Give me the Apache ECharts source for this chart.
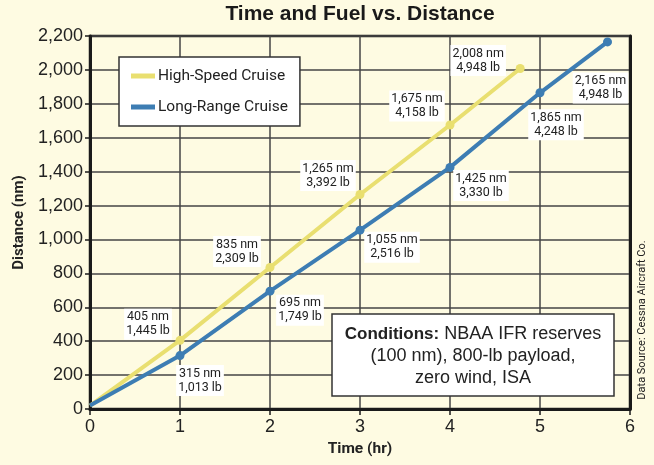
<!DOCTYPE html>
<html>
<head>
<meta charset="utf-8">
<script src="https://cdn.jsdelivr.net/npm/echarts@6/dist/echarts.min.js"></script>
<style>
  html, body { margin: 0; padding: 0; background: #fefbe2; }
  #chart { width: 654px; height: 465px; }
</style>
</head>
<body>
<div id="chart"></div>
<script>
// Data
const hsTime = [0, 1, 2, 3, 4, 4.78];
const hsDist = [20, 405, 835, 1265, 1675, 2008];
const hsFuel = [null, 1445, 2309, 3392, 4158, 4948];

const lrTime = [0, 1, 2, 3, 4, 5, 5.75];
const lrDist = [20, 315, 695, 1055, 1425, 1865, 2165];
const lrFuel = [null, 1013, 1749, 2516, 3330, 4248, 4948];

const xTicks = [0, 1, 2, 3, 4, 5, 6];

// label placement (px from the point)
const hsLabelOffset = [null, [-32, -16], [-33, -16], [-32, -19], [-33, -19], [-42, -8]];
const lrLabelOffset = [null, [20, 25], [30, 19], [32, 17], [31, 18], [16, 32], [-7, 46]];

const YELLOW = '#e9df70';
const BLUE = '#3d7db3';
const INK = '#222';
const NARROW = 'Roboto';
const fmt = v => v.toLocaleString('en-US');

function buildPoints(times, dists, fuels, offsets) {
  return times.map((t, i) => {
    const item = { value: [t, dists[i]] };
    if (fuels[i] == null) {
      item.symbolSize = 0;
      item.label = { show: false };
    } else {
      item.label = {
        show: true,
        position: 'inside',
        offset: offsets[i],
        formatter: fmt(dists[i]) + ' nm\n' + fmt(fuels[i]) + ' lb'
      };
    }
    return item;
  });
}

const pointLabel = {
  fontFamily: NARROW,
  fontSize: 12.5,
  lineHeight: 14,
  color: INK,
  backgroundColor: '#fff',
  padding: [2, 2, 1, 2],
  align: 'center',
  verticalAlign: 'middle'
};

const chart = echarts.init(document.getElementById('chart'));

const option = {
  backgroundColor: '#fefbe2',
  animation: false,
  title: {
    text: 'Time and Fuel vs. Distance',
    left: 360,
    top: 4,
    textAlign: 'center',
    padding: 0,
    textStyle: {
      fontFamily: 'Liberation Sans',
      fontWeight: 'bold',
      fontSize: 21,
      color: '#1a1a1a'
    }
  },
  legend: {
    orient: 'vertical',
    left: 119,
    top: 57,
    padding: [10, 12, 10, 12],
    itemGap: 13,
    itemWidth: 24,
    itemHeight: 5,
    icon: 'rect',
    backgroundColor: '#fff',
    borderColor: '#333',
    borderWidth: 1.5,
    borderRadius: 0,
    textStyle: {
      fontFamily: NARROW,
      fontSize: 15.5,
      lineHeight: 18,
      color: INK,
      padding: [0, 0, 0, -2]
    },
    data: ['High-Speed Cruise', 'Long-Range Cruise']
  },
  grid: {
    left: 90,
    right: 24,
    top: 36,
    bottom: 56,
    show: true,
    borderColor: '#222',
    borderWidth: 2.5
  },
  xAxis: {
    type: 'value',
    min: 0,
    max: 6,
    interval: 1,
    name: 'Time (hr)',
    nameLocation: 'middle',
    nameGap: 32,
    nameTextStyle: {
      fontFamily: NARROW,
      fontWeight: 'bold',
      fontSize: 15.5,
      color: INK
    },
    axisLine: { show: true, onZero: false, lineStyle: { color: '#1a1a1a', width: 3 } },
    axisTick: { show: true, length: 6, lineStyle: { color: '#1a1a1a', width: 1.5 } },
    axisLabel: {
      margin: 9,
      fontFamily: 'Liberation Sans',
      fontSize: 18,
      color: INK,
      formatter: v => xTicks.includes(v) ? String(v) : ''
    },
    splitLine: { show: true, lineStyle: { color: '#444', width: 1.5 } }
  },
  yAxis: [
    {
      type: 'value',
      min: 0,
      max: 2200,
      interval: 200,
      name: 'Distance (nm)',
      nameLocation: 'middle',
      nameGap: 57,
      nameTextStyle: {
        fontFamily: NARROW,
        fontWeight: 'bold',
        fontSize: 15,
        color: INK
      },
      axisLine: { show: true, lineStyle: { color: '#1a1a1a', width: 3 } },
      axisTick: { show: true, length: 5, lineStyle: { color: '#1a1a1a', width: 1.5 } },
      axisLabel: {
        margin: 7,
        fontFamily: 'Liberation Sans',
        fontSize: 18,
        color: INK,
        formatter: v => fmt(v)
      },
      splitLine: { show: true, lineStyle: { color: '#444', width: 1.5 } }
    },
    {
      type: 'value',
      min: 0,
      max: 2200,
      position: 'right',
      axisLine: { show: true, lineStyle: { color: '#1a1a1a', width: 3 } },
      axisTick: { show: false },
      axisLabel: { show: false },
      splitLine: { show: false }
    }
  ],
  graphic: [
    {
      type: 'rect',
      shape: { x: 332, y: 314, width: 282, height: 82 },
      style: { fill: '#fff', stroke: '#333', lineWidth: 1.5 },
      z: 100
    },
    {
      type: 'text',
      x: 473,
      y: 356,
      z: 101,
      style: {
        text: '{b|Conditions:} NBAA IFR reserves\n(100 nm), 800-lb payload,\nzero wind, ISA',
        align: 'center',
        verticalAlign: 'middle',
        fontFamily: 'Liberation Sans',
        fontSize: 18,
        lineHeight: 22,
        fill: INK,
        rich: {
          b: {
            fontFamily: 'Liberation Sans',
            fontWeight: 'bold',
            fontSize: 17,
            lineHeight: 22,
            fill: INK
          }
        }
      }
    },
    {
      type: 'text',
      x: 642,
      y: 320,
      rotation: Math.PI / 2,
      style: {
        text: 'Data Source: Cessna Aircraft Co.',
        align: 'center',
        verticalAlign: 'middle',
        fontFamily: NARROW,
        fontSize: 11,
        fill: INK
      }
    }
  ],
  series: [
    {
      name: 'High-Speed Cruise',
      type: 'line',
      data: buildPoints(hsTime, hsDist, hsFuel, hsLabelOffset),
      symbol: 'circle',
      symbolSize: 9,
      lineStyle: { color: YELLOW, width: 4 },
      itemStyle: { color: YELLOW },
      label: pointLabel,
      z: 3
    },
    {
      name: 'Long-Range Cruise',
      type: 'line',
      data: buildPoints(lrTime, lrDist, lrFuel, lrLabelOffset),
      symbol: 'circle',
      symbolSize: 9,
      lineStyle: { color: BLUE, width: 4 },
      itemStyle: { color: BLUE },
      label: pointLabel,
      z: 4
    }
  ]
};

chart.setOption(option);
</script>
</body>
</html>
